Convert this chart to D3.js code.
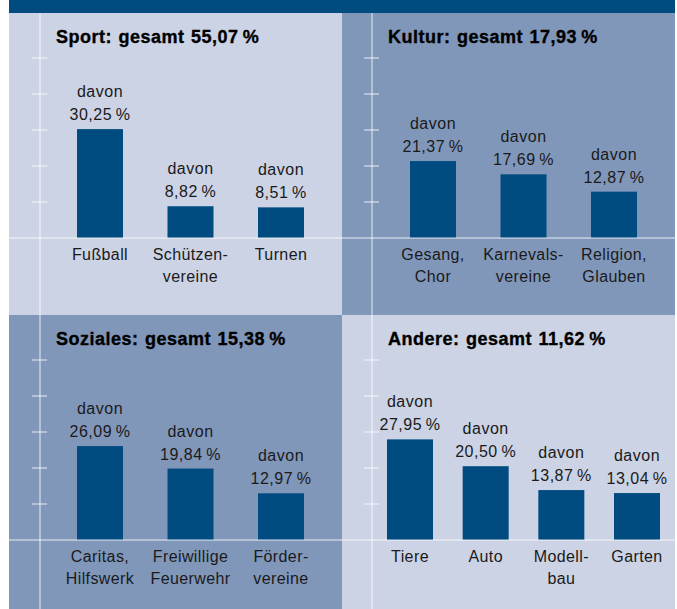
<!DOCTYPE html>
<html><head><meta charset="utf-8">
<script src="https://cdn.jsdelivr.net/npm/d3@7"></script>
<style>html,body{margin:0;padding:0;background:#fff;}svg{display:block;}text{white-space:pre;}</style>
</head><body>
<svg id="chart" width="677" height="609"></svg>
<script>
// ---- data ----
const groupNames = ["Sport", "Kultur", "Soziales", "Andere"];
const groupTotals = [55.07, 17.93, 15.38, 11.62];
const sportCategories = ["Fußball", "Schützen-\nvereine", "Turnen"];
const sportValues = [30.25, 8.82, 8.51];
const kulturCategories = ["Gesang,\nChor", "Karnevals-\nvereine", "Religion,\nGlauben"];
const kulturValues = [21.37, 17.69, 12.87];
const sozialesCategories = ["Caritas,\nHilfswerk", "Freiwillige\nFeuerwehr", "Förder-\nvereine"];
const sozialesValues = [26.09, 19.84, 12.97];
const andereCategories = ["Tiere", "Auto", "Modell-\nbau", "Garten"];
const andereValues = [27.95, 20.50, 13.87, 13.04];
const tickValues = [10, 20, 30, 40, 50];

// ---- layout ----
const LIGHT = "#ccd3e5", MEDIUM = "#8197ba", BAR = "#004c80";
const locale = d3.formatLocale({decimal: ",", thousands: ".", grouping: [3], currency: ["", " €"]});
const fmt = locale.format(".2f");
const PCT = "\u2009%";

const panels = [
  {name: groupNames[0], total: groupTotals[0], cats: sportCategories, vals: sportValues,
   x0: 9, y0: 13, w: 333, h: 302, bg: LIGHT, axisX: 40, base: 238, xr: [100, 281]},
  {name: groupNames[1], total: groupTotals[1], cats: kulturCategories, vals: kulturValues,
   x0: 342, y0: 13, w: 333, h: 302, bg: MEDIUM, axisX: 372, base: 238, xr: [433, 614]},
  {name: groupNames[2], total: groupTotals[2], cats: sozialesCategories, vals: sozialesValues,
   x0: 9, y0: 315, w: 333, h: 294, bg: MEDIUM, axisX: 40, base: 540, xr: [100, 281]},
  {name: groupNames[3], total: groupTotals[3], cats: andereCategories, vals: andereValues,
   x0: 342, y0: 315, w: 333, h: 294, bg: LIGHT, axisX: 372, base: 540, xr: [410, 637]}
];

const svg = d3.select("#chart");
const FONT = "'Liberation Sans', Arial, Helvetica, sans-serif";

// backgrounds
panels.forEach(p => {
  svg.append("rect").attr("x", p.x0).attr("y", p.y0).attr("width", p.w).attr("height", p.h).attr("fill", p.bg);
});
// top band
svg.append("rect").attr("x", 9).attr("y", 0).attr("width", 666).attr("height", 13).attr("fill", BAR);

const gridStroke = "rgba(255,255,255,0.55)";

panels.forEach(p => {
  const g = svg.append("g");
  const y = d3.scaleLinear().domain([0, 50]).range([p.base, p.base - 180]);
  const x = d3.scalePoint().domain(p.cats).range(p.xr);
  const bw = 46;

  // ticks
  g.selectAll("line.tick").data(tickValues).join("line")
    .attr("x1", p.axisX - 8).attr("x2", p.axisX + 7)
    .attr("y1", d => y(d)).attr("y2", d => y(d))
    .attr("stroke", gridStroke).attr("stroke-width", 1.5);

  // bars
  g.selectAll("rect.bar").data(p.vals).join("rect")
    .attr("x", (d, i) => x(p.cats[i]) - bw / 2)
    .attr("y", d => y(d))
    .attr("width", bw)
    .attr("height", d => y(0) - y(d))
    .attr("fill", BAR);

  // value labels
  const lab = g.selectAll("g.lab").data(p.vals).join("g")
    .attr("transform", (d, i) => `translate(${x(p.cats[i])},${y(d)})`);
  lab.append("text").attr("y", -32).text("davon");
  lab.append("text").attr("y", -9).text(d => fmt(d) + PCT);
  lab.selectAll("text").attr("text-anchor", "middle").attr("font-family", FONT)
    .attr("font-size", 16).attr("letter-spacing", 0.5).attr("fill", "#1a1a1a");

  // category labels
  g.selectAll("text.cat").data(p.cats).join("text")
    .attr("text-anchor", "middle").attr("font-family", FONT).attr("font-size", 16)
    .attr("letter-spacing", 0.4).attr("fill", "#1a1a1a")
    .attr("transform", d => `translate(${x(d)},${p.base + 21.5})`)
    .each(function(d) {
      d.split("\n").forEach((line, k) => {
        d3.select(this).append("tspan").attr("x", 0).attr("y", k * 22.2).text(line);
      });
    });

  // title
  g.append("text").attr("x", p.axisX + 16).attr("y", p.y0 + 30)
    .attr("font-family", FONT).attr("font-weight", "bold").attr("font-size", 18)
    .attr("letter-spacing", 0.5).attr("word-spacing", 1).attr("fill", "#000")
    .attr("stroke", "#000").attr("stroke-width", 0.35)
    .text(`${p.name}: gesamt ${fmt(p.total)}${PCT}`);
});

// vertical axis lines (through full height)
[40, 372].forEach(ax => {
  svg.append("line").attr("x1", ax).attr("x2", ax).attr("y1", 13).attr("y2", 609)
    .attr("stroke", gridStroke).attr("stroke-width", 1.5);
});
// baselines
[238, 540].forEach(b => {
  svg.append("line").attr("x1", 9).attr("x2", 675).attr("y1", b).attr("y2", b)
    .attr("stroke", gridStroke).attr("stroke-width", 1.5);
});
</script>
</body></html>
